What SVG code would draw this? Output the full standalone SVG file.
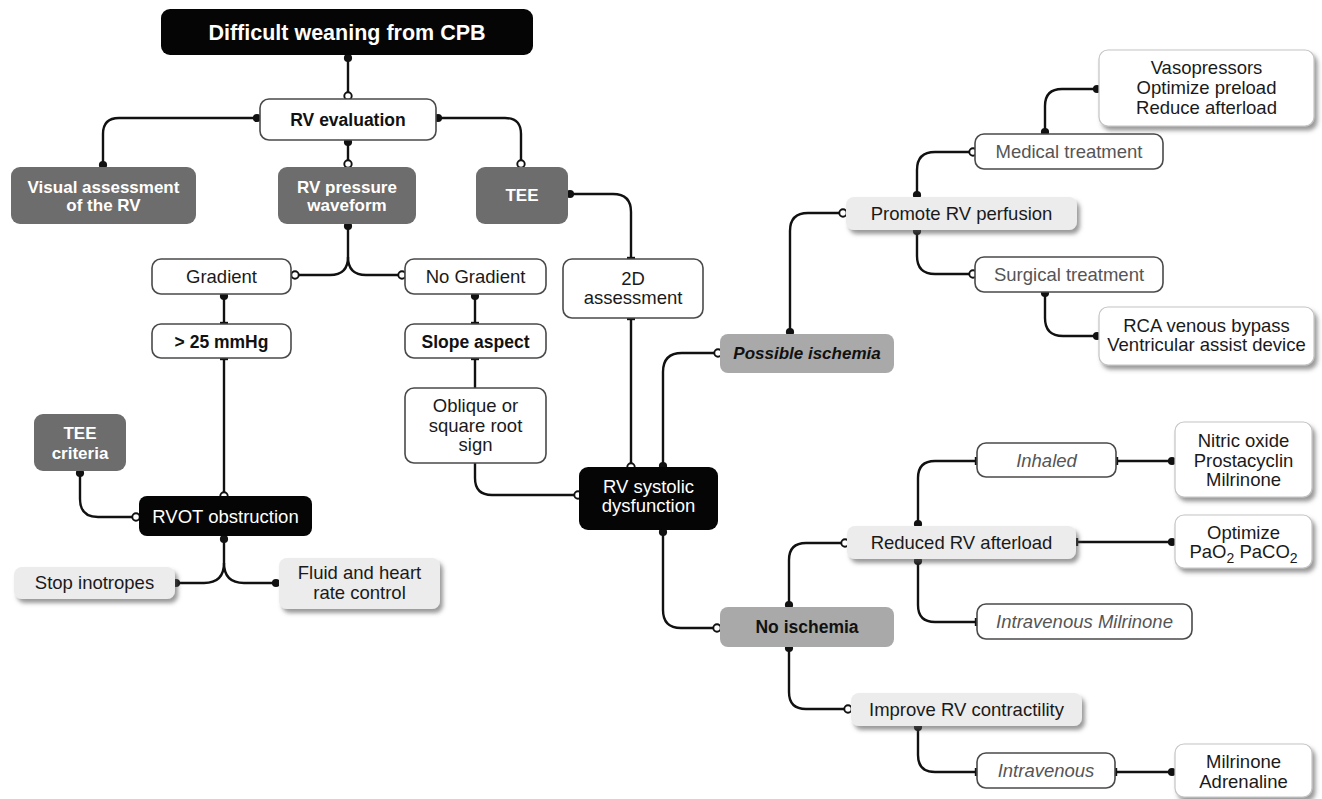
<svg xmlns="http://www.w3.org/2000/svg" width="1322" height="799" viewBox="0 0 1322 799">
<defs>
<style>
text{font-family:"Liberation Sans",Arial,sans-serif;text-anchor:middle;}
.blk{fill:#050505;}
.dk{fill:#6d6d6d;}
.md{fill:#a9a9a9;}
.lt{fill:#ececec;filter:url(#sh);}
.wo{fill:#fff;stroke:#4a4a4a;stroke-width:1.6;}
.ws{fill:#fff;stroke:#c4c4c4;stroke-width:1.2;filter:url(#sh);}
.tw{fill:#fff;font-size:17px;font-weight:bold;}
.twr{fill:#fff;font-size:18.5px;}
.tb{fill:#111;font-size:17.5px;font-weight:bold;}
.tr{fill:#1a1a1a;font-size:18.5px;}
.tg{fill:#555;font-size:18.5px;}
.ti{fill:#555;font-size:18.5px;font-style:italic;}
.c{fill:none;stroke:#111;stroke-width:2.4;}
</style>
<filter id="sh" x="-10%" y="-20%" width="130%" height="170%">
<feDropShadow dx="3" dy="4" stdDeviation="2" flood-color="#555" flood-opacity="0.6"/>
</filter>
<marker id="dot" markerWidth="12" markerHeight="12" refX="6" refY="6" markerUnits="userSpaceOnUse"><circle cx="6" cy="6" r="4.1" fill="#111"/></marker>
<marker id="ring" markerWidth="12" markerHeight="12" refX="6" refY="6" markerUnits="userSpaceOnUse"><circle cx="6" cy="6" r="3.7" fill="#fff" stroke="#111" stroke-width="1.9"/></marker>
<marker id="tick" markerWidth="12" markerHeight="12" refX="6" refY="6" orient="auto" markerUnits="userSpaceOnUse"><path d="M6,2 V10" stroke="#111" stroke-width="2.4"/></marker>
</defs>
<rect width="1322" height="799" fill="#fff"/>

<g id="connectors">
<path class="c" d="M348,58 V96" marker-start="url(#dot)" marker-end="url(#ring)"/>
<path class="c" d="M257,118 H119 Q103,118 103,134 V165" marker-start="url(#dot)" marker-end="url(#dot)"/>
<path class="c" d="M348,142 V164" marker-start="url(#dot)" marker-end="url(#ring)"/>
<path class="c" d="M438,118 H505 Q521,118 521,134 V164" marker-start="url(#dot)" marker-end="url(#ring)"/>
<path class="c" d="M348,226 V257 Q348,275 330,275 H295" marker-start="url(#dot)" marker-end="url(#ring)"/>
<path class="c" d="M348,257 Q348,275 366,275 H402" marker-end="url(#ring)"/>
<path class="c" d="M224,296 V323" marker-start="url(#dot)" marker-end="url(#tick)"/>
<path class="c" d="M224,359 V496" marker-start="url(#tick)" marker-end="url(#ring)"/>
<path class="c" d="M570,194 H613 Q631,194 631,212 V258" marker-start="url(#dot)" marker-end="url(#tick)"/>
<path class="c" d="M631,319 V467" marker-start="url(#tick)" marker-end="url(#ring)"/>
<path class="c" d="M475,296 V323" marker-start="url(#dot)" marker-end="url(#tick)"/>
<path class="c" d="M475,359 V388" marker-start="url(#tick)"/>
<path class="c" d="M475,463 V478 Q475,495 492,495 H578" marker-end="url(#ring)"/>
<path class="c" d="M663,466 V372 Q663,353 682,353 H718" marker-start="url(#dot)" marker-end="url(#ring)"/>
<path class="c" d="M790,332 V231 Q790,213 808,213 H843" marker-start="url(#dot)" marker-end="url(#ring)"/>
<path class="c" d="M917,195 V170 Q917,152 935,152 H973" marker-start="url(#dot)" marker-end="url(#ring)"/>
<path class="c" d="M1045,132 V106 Q1045,89 1062,89 H1097" marker-start="url(#dot)" marker-end="url(#dot)"/>
<path class="c" d="M917,231 V256 Q917,274 935,274 H973" marker-start="url(#dot)" marker-end="url(#ring)"/>
<path class="c" d="M1045,293 V318 Q1045,336 1063,336 H1097" marker-start="url(#dot)" marker-end="url(#dot)"/>
<path class="c" d="M663,532 V610 Q663,628 681,628 H717" marker-start="url(#dot)" marker-end="url(#ring)"/>
<path class="c" d="M789,605 V560 Q789,543 806,543 H845" marker-start="url(#dot)" marker-end="url(#ring)"/>
<path class="c" d="M918,524 V478 Q918,461 935,461 H976" marker-start="url(#dot)" marker-end="url(#tick)"/>
<path class="c" d="M1117,461 H1172" marker-start="url(#tick)" marker-end="url(#dot)"/>
<path class="c" d="M1077,542 H1172" marker-start="url(#tick)" marker-end="url(#dot)"/>
<path class="c" d="M918,561 V605 Q918,622 935,622 H976" marker-start="url(#dot)" marker-end="url(#tick)"/>
<path class="c" d="M789,648 V692 Q789,709 806,709 H848" marker-start="url(#dot)" marker-end="url(#ring)"/>
<path class="c" d="M918,727 V755 Q918,772 935,772 H976" marker-start="url(#dot)" marker-end="url(#tick)"/>
<path class="c" d="M1116,772 H1172" marker-start="url(#tick)" marker-end="url(#dot)"/>
<path class="c" d="M224,539 V563 Q224,583 204,583 H176" marker-start="url(#dot)" marker-end="url(#dot)"/>
<path class="c" d="M224,563 Q224,583 244,583 H276" marker-end="url(#dot)"/>
<path class="c" d="M80,473 V499 Q80,517 98,517 H136" marker-start="url(#dot)" marker-end="url(#ring)"/>
</g>

<g id="n-title"><rect class="blk" x="161" y="9" width="372" height="46" rx="9"/><text x="347" y="40" fill="#fff" font-size="21.5" font-weight="bold">Difficult weaning from CPB</text></g>
<g id="n-rveval"><rect class="wo" x="260" y="99" width="176" height="41" rx="9"/><text class="tb" x="348" y="126">RV evaluation</text></g>
<g id="n-visual"><rect class="dk" x="11" y="167" width="185" height="57" rx="9"/><text class="tw" x="103.5" y="193">Visual assessment</text><text class="tw" x="103.5" y="211">of the RV</text></g>
<g id="n-rvpress"><rect class="dk" x="278" y="167" width="138" height="57" rx="9"/><text class="tw" x="347" y="193">RV pressure</text><text class="tw" x="347" y="211">waveform</text></g>
<g id="n-tee"><rect class="dk" x="476" y="167" width="92" height="57" rx="9"/><text class="tw" x="522" y="201">TEE</text></g>
<g id="n-gradient"><rect class="wo" x="152" y="259" width="139" height="35" rx="9"/><text class="tr" x="221.5" y="283">Gradient</text></g>
<g id="n-nogradient"><rect class="wo" x="405" y="259" width="141" height="35" rx="9"/><text class="tr" x="475.5" y="283">No Gradient</text></g>
<g id="n-gt25"><rect class="wo" x="152" y="324" width="139" height="34" rx="9"/><text class="tb" x="221.5" y="347.5" font-size="18.5">&gt; 25 mmHg</text></g>
<g id="n-slope"><rect class="wo" x="405" y="324" width="141" height="34" rx="9"/><text class="tb" x="475.5" y="347.5">Slope aspect</text></g>
<g id="n-oblique"><rect class="wo" x="405" y="388" width="141" height="75" rx="9"/><text class="tr" x="475.5" y="412">Oblique or</text><text class="tr" x="475.5" y="432">square root</text><text class="tr" x="475.5" y="451">sign</text></g>
<g id="n-2d"><rect class="wo" x="563" y="259" width="140" height="59" rx="9"/><text class="tr" x="633" y="285">2D</text><text class="tr" x="633" y="304">assessment</text></g>
<g id="n-teecrit"><rect class="dk" x="34" y="414" width="92" height="57" rx="9"/><text class="tw" x="80" y="439">TEE</text><text class="tw" x="80" y="459">criteria</text></g>
<g id="n-rvot"><rect class="blk" x="139" y="496" width="173" height="40" rx="8"/><text class="twr" x="225.5" y="523">RVOT obstruction</text></g>
<g id="n-stop"><rect class="lt" x="14" y="567" width="161" height="32" rx="8"/><text class="tr" x="94.5" y="589">Stop inotropes</text></g>
<g id="n-fluid"><rect class="lt" x="279" y="558" width="161" height="51" rx="8"/><text class="tr" x="359.5" y="579">Fluid and heart</text><text class="tr" x="359.5" y="599">rate control</text></g>
<g id="n-rvsys"><rect class="blk" x="579" y="467" width="139" height="63" rx="9"/><text class="twr" x="648.5" y="493">RV systolic</text><text class="twr" x="648.5" y="512">dysfunction</text></g>
<g id="n-possible"><rect class="md" x="720" y="334" width="174" height="39" rx="8"/><text x="807" y="359" fill="#111" font-size="17" font-weight="bold" font-style="italic">Possible ischemia</text></g>
<g id="n-promote"><rect class="lt" x="846" y="197" width="231" height="33" rx="8"/><text class="tr" x="961.5" y="220">Promote RV perfusion</text></g>
<g id="n-medical"><rect class="wo" x="975" y="134" width="188" height="35" rx="9"/><text class="tg" x="1069" y="158">Medical treatment</text></g>
<g id="n-vaso"><rect class="ws" x="1099" y="50" width="215" height="76" rx="9"/><text class="tr" x="1206.5" y="74">Vasopressors</text><text class="tr" x="1206.5" y="94">Optimize preload</text><text class="tr" x="1206.5" y="114">Reduce afterload</text></g>
<g id="n-surgical"><rect class="wo" x="975" y="257" width="188" height="35" rx="9"/><text class="tg" x="1069" y="281">Surgical treatment</text></g>
<g id="n-rca"><rect class="ws" x="1099" y="307" width="215" height="58" rx="9"/><text class="tr" x="1206.5" y="332">RCA venous bypass</text><text class="tr" x="1206.5" y="351">Ventricular assist device</text></g>
<g id="n-noisch"><rect class="md" x="720" y="607" width="174" height="40" rx="8"/><text class="tb" x="807" y="633">No ischemia</text></g>
<g id="n-reduced"><rect class="lt" x="847" y="526" width="229" height="33" rx="8"/><text class="tr" x="961.5" y="549">Reduced RV afterload</text></g>
<g id="n-inhaled"><rect class="wo" x="977" y="443" width="139" height="34" rx="9"/><text class="ti" x="1046.5" y="466.5">Inhaled</text></g>
<g id="n-nitric"><rect class="ws" x="1175" y="422" width="137" height="75" rx="9"/><text class="tr" x="1243.5" y="447">Nitric oxide</text><text class="tr" x="1243.5" y="467">Prostacyclin</text><text class="tr" x="1243.5" y="486">Milrinone</text></g>
<g id="n-optimize"><rect class="ws" x="1175" y="515" width="137" height="53" rx="9"/><text class="tr" x="1243.5" y="539">Optimize</text><text class="tr" x="1243.5" y="558">PaO<tspan dy="5" font-size="14">2</tspan><tspan dy="-5"> PaCO</tspan><tspan dy="5" font-size="14">2</tspan></text></g>
<g id="n-ivmil"><rect class="wo" x="977" y="604" width="215" height="35" rx="9"/><text class="ti" x="1084.5" y="627.5">Intravenous Milrinone</text></g>
<g id="n-improve"><rect class="lt" x="851" y="693" width="231" height="33" rx="8"/><text class="tr" x="966.5" y="716">Improve RV contractility</text></g>
<g id="n-iv"><rect class="wo" x="977" y="753" width="138" height="35" rx="9"/><text class="ti" x="1046" y="777">Intravenous</text></g>
<g id="n-milad"><rect class="ws" x="1175" y="744" width="137" height="53" rx="9"/><text class="tr" x="1243.5" y="768">Milrinone</text><text class="tr" x="1243.5" y="788">Adrenaline</text></g>
</svg>
